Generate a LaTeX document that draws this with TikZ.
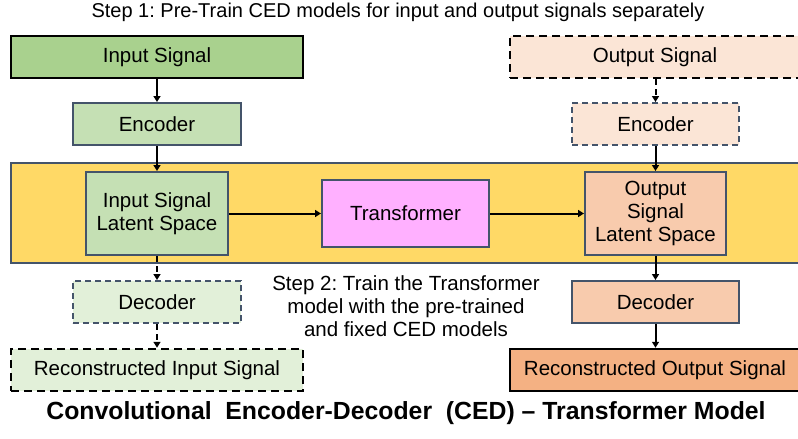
\documentclass[tikz,border=0pt]{standalone}
\usepackage{fontspec}
\setmainfont{Liberation Sans}
\frenchspacing
\usetikzlibrary{arrows.meta}
\definecolor{edgeblue}{HTML}{44546A}
\definecolor{bandyellow}{HTML}{FFD966}
\definecolor{grnA}{HTML}{A9D18E}
\definecolor{grnB}{HTML}{C5E0B4}
\definecolor{grnC}{HTML}{E2F0D9}
\definecolor{orgA}{HTML}{FBE5D6}
\definecolor{orgB}{HTML}{F8CBAD}
\definecolor{orgC}{HTML}{F4B183}
\definecolor{pinkT}{HTML}{FFB0FF}
\tikzset{
  lbl/.style={font=\fontsize{20.5}{23}\selectfont, align=center, inner sep=0pt},
  blkbox/.style={lbl, draw=black, line width=2.5pt, minimum height=42pt},
  bluebox/.style={lbl, draw=edgeblue, line width=2pt},
  dashblk/.style={dash pattern=on 8pt off 5pt},
  dashblue/.style={dash pattern=on 6pt off 4pt},
  flow/.style={line width=2pt, -{Triangle[width=7pt,length=6pt]}},
  dflow/.style={flow, dash pattern=on 6pt off 4pt},
}
\begin{document}
\begin{tikzpicture}[x=1pt, y=-1pt]
\useasboundingbox (0,0) rectangle (798,439);
% shaded band holding the trainable stage
\fill[bandyellow, draw=edgeblue, line width=2pt] (11,163) rectangle (812,263);

% input column
\node[blkbox, fill=grnA, minimum width=292pt] (insig) at (157,57) {Input Signal};
\node[bluebox, fill=grnB, minimum width=168pt, minimum height=42pt] (enc1) at (157,124) {Encoder};
\node[bluebox, fill=grnB, minimum width=142pt, minimum height=83pt] (lat1) at (157,213.5) {Input Signal\\Latent Space};
\node[bluebox, dashblue, fill=grnC, minimum width=168pt, minimum height=42pt] (dec1) at (157,302) {Decoder};
\node[blkbox, dashblk, fill=grnC, minimum width=292pt] (rec1) at (157,370) {Reconstructed Input Signal};

% transformer
\node[bluebox, fill=pinkT, minimum width=167pt, minimum height=67pt] (trans) at (405.5,213.5) {Transformer};

% output column
\node[blkbox, dashblk, fill=orgA, minimum width=290pt] (outsig) at (655,57) {Output Signal};
\node[bluebox, dashblue, fill=orgA, minimum width=167pt, minimum height=42pt] (enc2) at (655.5,124) {Encoder};
\node[bluebox, fill=orgB, minimum width=141pt, minimum height=83pt] (lat2) at (655.5,213.5) {Output\\Signal\\Latent Space};
\node[bluebox, fill=orgB, minimum width=167pt, minimum height=42pt] (dec2) at (655.5,302) {Decoder};
\node[blkbox, fill=orgC, minimum width=290pt] (rec2) at (655,370) {Reconstructed Output Signal};

% connectors
\draw[flow] (insig.south) -- (enc1.north);
\draw[flow] (enc1.south) -- (lat1.north);
\draw[dflow] (lat1.south) -- (dec1.north);
\draw[dflow] (dec1.south) -- (rec1.north);
\draw[dflow] (outsig.south -| enc2.north) -- (enc2.north);
\draw[flow] (enc2.south) -- (lat2.north);
\draw[flow] (lat2.south) -- (dec2.north);
\draw[flow] (dec2.south) -- (rec2.north -| dec2.south);
\draw[flow] (lat1.east) -- (trans.west);
\draw[flow] (trans.east) -- (lat2.west);

% captions
\node[font=\fontsize{20}{23}\selectfont, inner sep=0pt] (step1) at (398,12) {Step 1: Pre-Train CED models for input and output signals separately};
\node[lbl] (step2) at (406,306) {Step 2: Train the Transformer\\model with the pre-trained\\and fixed CED models};
\node[font=\fontsize{24.8}{28}\selectfont\bfseries, inner sep=0pt] (title) at (406,413) {Convolutional\ \ Encoder-Decoder\ \ (CED) -- Transformer Model};
\end{tikzpicture}
\end{document}
